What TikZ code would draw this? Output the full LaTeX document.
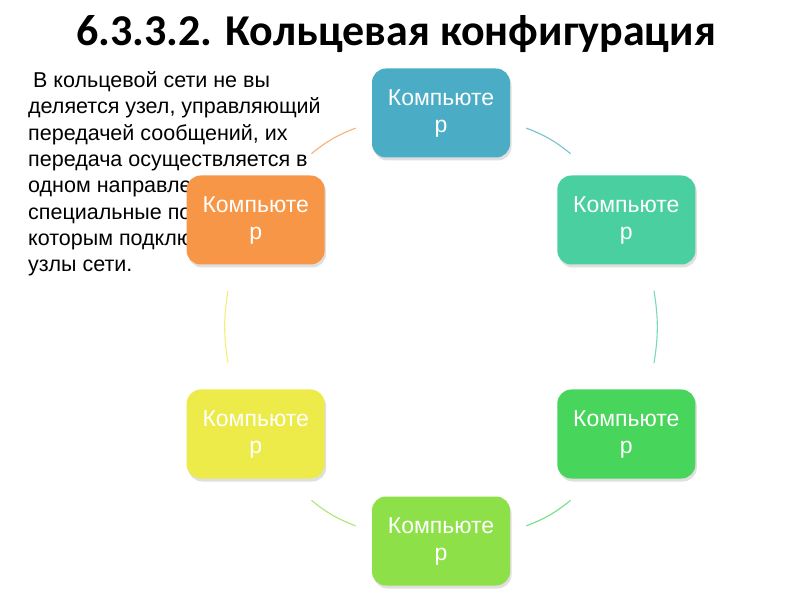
\documentclass[tikz,border=0pt]{standalone}
\usepackage{fontspec}
\setmainfont{Liberation Sans}
\newfontfamily\titlefont{Carlito}
\usetikzlibrary{calc,shadows}

\definecolor{pcteal}{HTML}{4BACC6}
\definecolor{pcsea}{HTML}{4ACFA0}
\definecolor{pcgreen}{HTML}{47D55B}
\definecolor{pclime}{HTML}{8DE047}
\definecolor{pcyellow}{HTML}{EDEB4A}
\definecolor{pcorange}{HTML}{F79646}

\begin{document}
\begin{tikzpicture}[
    x=1pt, y=1pt,
    pc/.style={rounded corners=14pt, minimum width=138pt, minimum height=89pt, text=white, align=center,
        font=\fontsize{23}{27}\selectfont,
        drop shadow={shadow xshift=1.5pt, shadow yshift=-3pt, opacity=0.25}},
    link/.style={line width=1.1pt}
]
\useasboundingbox (0,0) rectangle (800,600);
\fill[white] (0,0) rectangle (800,600);

\node[font=\titlefont\bfseries\fontsize{44}{52}\selectfont] (title) at (396,566) {6.3.3.2. Кольцевая конфигурация};

\node[anchor=north west, align=left, inner sep=0pt, font=\fontsize{21.5}{26.3}\selectfont] (para) at (28,528.5)
    {\hspace*{5pt}В кольцевой сети не вы\\
     деляется узел, управляющий\\
     передачей сообщений, их\\
     передача осуществляется в\\
     одном направлении через\\
     специальные порты, к\\
     которым подключены\\
     узлы сети.};

% ring of computers, clockwise from the top
\coordinate (ring) at (441,273);
\node[pc, fill=pcteal]   (n1) at ($(ring)+(90:214)$)  {Компьюте\\р};
\node[pc, fill=pcsea]    (n2) at ($(ring)+(30:214)$)  {Компьюте\\р};
\node[pc, fill=pcgreen]  (n3) at ($(ring)+(-30:214)$) {Компьюте\\р};
\node[pc, fill=pclime]   (n4) at ($(ring)+(-90:214)$) {Компьюте\\р};
\node[pc, fill=pcyellow] (n5) at ($(ring)+(-150:214)$) {Компьюте\\р};
\node[pc, fill=pcorange] (n6) at ($(ring)+(150:214)$) {Компьюте\\р};

% arcs between neighbours
\foreach \i/\j/\p/\c in {1/2/0.38/pcteal, 2/3/0.33/pcsea, 3/4/0.38/pcgreen,
                         4/5/0.38/pclime, 5/6/0.33/pcyellow, 6/1/0.38/pcorange} {
    \path (n\i.center) to[bend left=30]
        coordinate[pos=\p] (a\i) coordinate[pos=1-\p] (b\i) (n\j.center);
    \draw[link, \c!75] (a\i) to[bend left=9] (b\i);
}
\end{tikzpicture}
\end{document}
